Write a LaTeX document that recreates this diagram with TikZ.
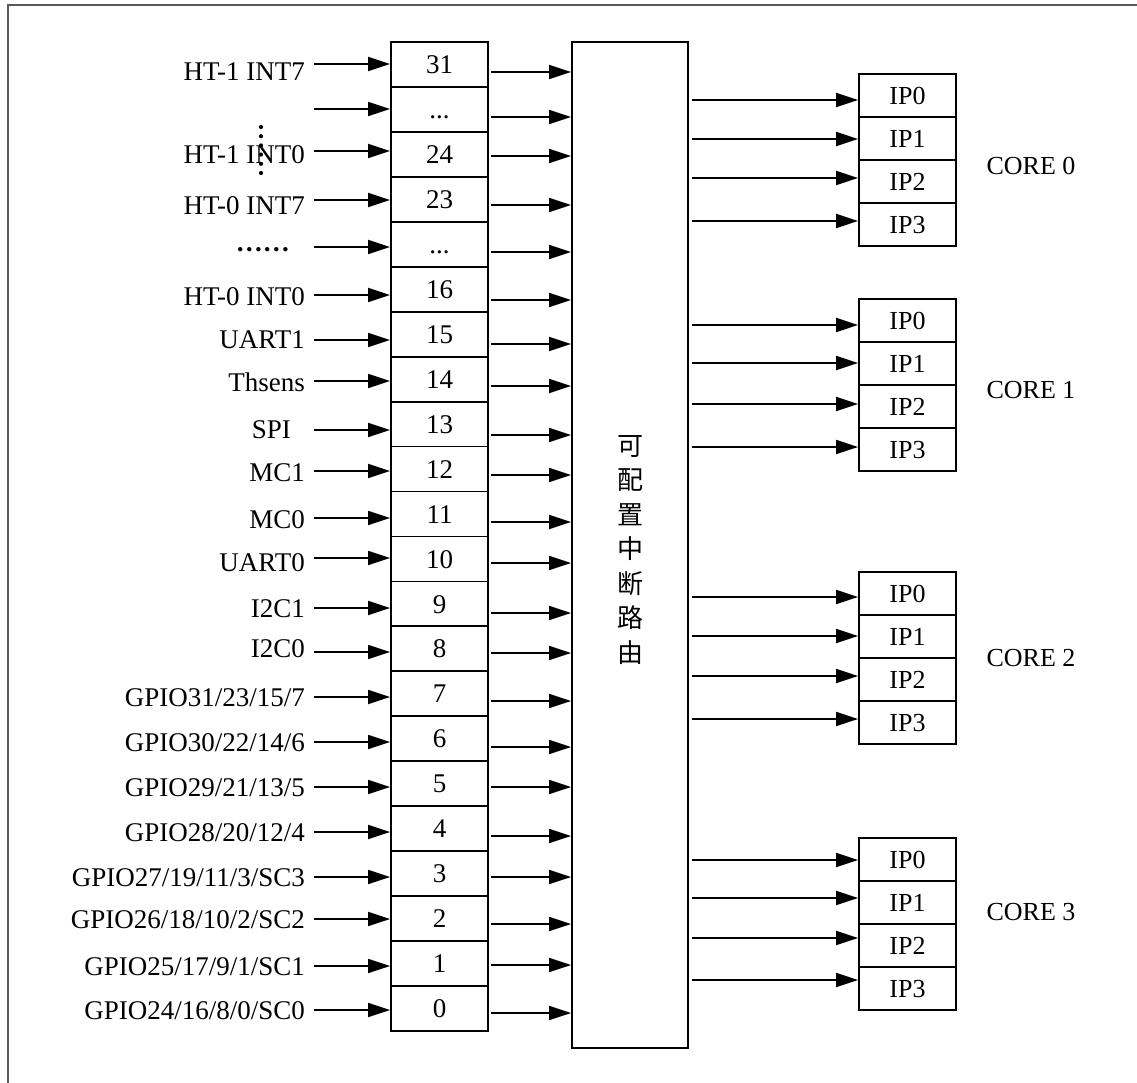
\documentclass[tikz,border=0pt]{standalone}
\usepackage{fontspec}
\setmainfont{Liberation Serif}
\newfontfamily\cjk{Noto Sans CJK SC}
\usetikzlibrary{arrows.meta,calc}
\tikzset{
  cell/.style={draw, line width=1.8pt, minimum width=97pt, minimum height=44.95pt, inner sep=0pt,
    text height=18.3pt, text depth=0pt, font=\fontsize{27pt}{32pt}\selectfont},
  ipcell/.style={draw, line width=1.8pt, minimum width=97pt, minimum height=43pt, inner sep=0pt,
    text height=17.2pt, text depth=0pt, font=\fontsize{26pt}{30pt}\selectfont},
  lab/.style={anchor=base east, inner sep=0pt, font=\fontsize{27pt}{32pt}\selectfont},
  corelab/.style={inner sep=0pt, font=\fontsize{26pt}{30pt}\selectfont},
  arr/.style={line width=1.8pt, -{Triangle[length=22pt,width=14pt]}},
  router/.style={draw, line width=1.8pt, minimum width=116pt, minimum height=1006pt, inner sep=0pt},
  frame/.style={draw=black!65, line width=2.2pt}
}
\newcommand{\regrow}[6]{%
  \node[cell] (c#1) at (439.5,{42+44.95*(#1+0.5)}) {#2};
  \node[lab] (l#1) at (305,{#4+9}) {#3};
  \coordinate (i#1) at (314,#5);
  \draw[arr] (i#1) -- (i#1 -| c#1.west);
  \coordinate (o#1) at (491,#6);
  \draw[arr] (o#1) -- (o#1 -| router.west);
}
\newcommand{\corebox}[7]{%
  \foreach \j/\ay in {0/#3,1/#4,2/#5,3/#6} {
    \node[ipcell] (ip#1\j) at (907.5,{#2+43*(\j+0.5)}) {IP\j};
    \coordinate (s#1\j) at (692,\ay);
    \draw[arr] (s#1\j) -- (s#1\j -| ip#1\j.west);
  }
  \node[corelab] (core#1) at (1031,#7) {CORE #1};
}
\begin{document}
\begin{tikzpicture}[x=1pt,y=-1pt]
\useasboundingbox (0,0) rectangle (1137,1083);
\draw[frame] (8,1090) -- (8,5) -- (1140,5);

\node[router] (router) at (630,545) {};
\node[font=\cjk\fontsize{26pt}{34.5pt}\selectfont, align=center, inner sep=0pt] (rtext) at (630,550)
  {可\\配\\置\\中\\断\\路\\由};

% row 1 (no label)
\node[cell] (c1) at (439.5,{42+44.95*1.5}) {...};
\coordinate (i1) at (314,109);
\draw[arr] (i1) -- (i1 -| c1.west);
\coordinate (o1) at (491,117);
\draw[arr] (o1) -- (o1 -| router.west);

\regrow{0}{31}{HT-1 INT7}{72}{64}{72}
\regrow{2}{24}{HT-1 INT0}{155}{151}{156}
\regrow{3}{23}{HT-0 INT7}{206}{200}{205}
\regrow{5}{16}{HT-0 INT0}{296}{295}{300}
\regrow{6}{15}{UART1}{339}{340}{344}
\regrow{7}{14}{Thsens}{382}{381}{386}
\regrow{9}{12}{MC1}{472}{471}{475}
\regrow{10}{11}{MC0}{519}{518}{522}
\regrow{11}{10}{UART0}{562}{558}{563}
\regrow{12}{9}{I2C1}{608}{608}{613}
\regrow{13}{8}{I2C0}{648}{652}{653}
\regrow{14}{7}{GPIO31/23/15/7}{697}{697}{701}
\regrow{15}{6}{GPIO30/22/14/6}{742}{742}{747}
\regrow{16}{5}{GPIO29/21/13/5}{787}{787}{787}
\regrow{17}{4}{GPIO28/20/12/4}{832}{832}{836}
\regrow{18}{3}{GPIO27/19/11/3/SC3}{877}{877}{877}
\regrow{19}{2}{GPIO26/18/10/2/SC2}{919}{919}{924}
\regrow{20}{1}{GPIO25/17/9/1/SC1}{966}{966}{965}
\regrow{21}{0}{GPIO24/16/8/0/SC0}{1010}{1010}{1013}

% row 4: ellipsis label
\node[cell] (c4) at (439.5,{42+44.95*4.5}) {...};
\node[lab] (l4) at (290,252) {\textbf{……}};
\coordinate (i4) at (314,247);
\draw[arr] (i4) -- (i4 -| c4.west);
\coordinate (o4) at (491,252);
\draw[arr] (o4) -- (o4 -| router.west);

% row 8: SPI (trailing space)
\node[cell] (c8) at (439.5,{42+44.95*8.5}) {13};
\node[lab] (l8) at (291,438) {SPI};
\coordinate (i8) at (314,430);
\draw[arr] (i8) -- (i8 -| c8.west);
\coordinate (o8) at (491,435);
\draw[arr] (o8) -- (o8 -| router.west);

% vertical dots near HT-1 INT0
\foreach \k in {0,...,5} \fill (261,{127+9.2*\k}) circle (2.1);

\corebox{0}{74}{100}{139}{178}{221}{166}
\corebox{1}{299}{325}{363}{404}{447}{390}
\corebox{2}{572}{597}{636}{676}{719}{658}
\corebox{3}{838}{860}{898}{938}{980}{912}
\end{tikzpicture}
\end{document}
